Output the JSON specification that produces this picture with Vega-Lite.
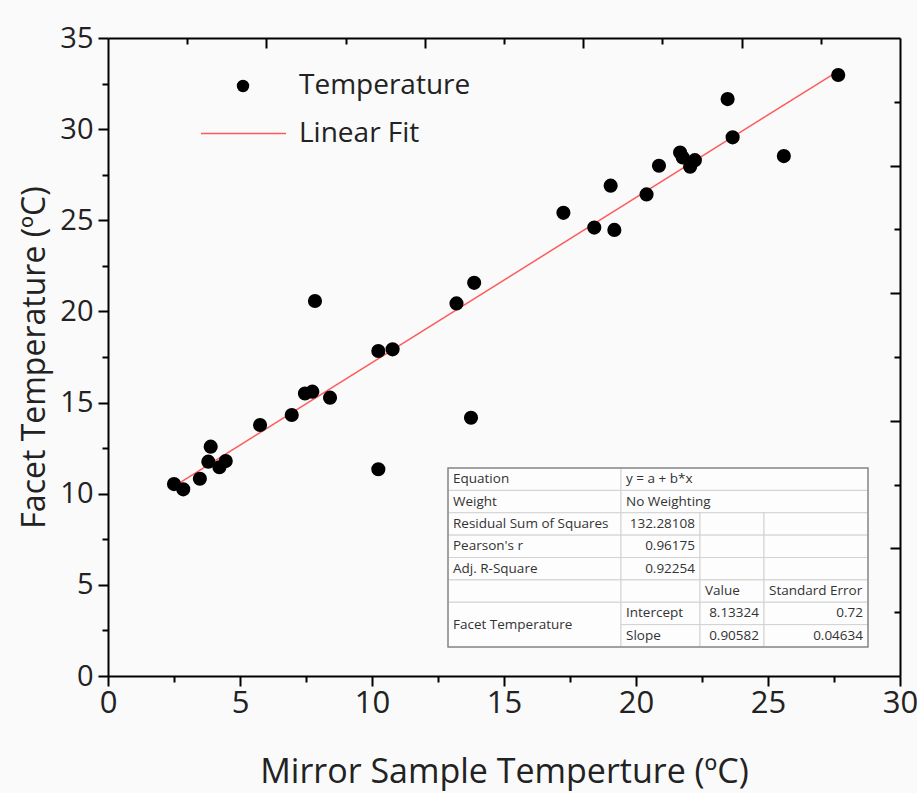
{
  "$schema": "https://vega.github.io/schema/vega-lite/v6.json",
  "width": 792,
  "height": 638,
  "autosize": {"type": "none"},
  "padding": {"left": 108, "top": 38, "right": 17, "bottom": 117},
  "background": "#fafafa",
  "config": {
    "view": {"stroke": null},
    "axis": {
      "grid": false,
      "domainColor": "black",
      "domainWidth": 2,
      "tickColor": "black",
      "tickWidth": 2,
      "labelColor": "#222",
      "titleColor": "#222",
      "titleFontWeight": "normal",
      "labelFont": "Open Sans",
      "titleFont": "Open Sans",
      "labelFlush": false
    },
    "legend": {"labelFont": "Open Sans", "labelFontSize": 28, "labelColor": "#222", "labelLimit": 0}
  },
  "datasets": {
    "temps": [
      {"mirror": 2.5, "facet": 10.53},
      {"mirror": 2.85, "facet": 10.24},
      {"mirror": 3.48, "facet": 10.82},
      {"mirror": 3.89, "facet": 12.58},
      {"mirror": 3.8, "facet": 11.76},
      {"mirror": 4.22, "facet": 11.45},
      {"mirror": 4.46, "facet": 11.79},
      {"mirror": 5.76, "facet": 13.77},
      {"mirror": 6.96, "facet": 14.32},
      {"mirror": 7.46, "facet": 15.5},
      {"mirror": 7.84, "facet": 20.57},
      {"mirror": 7.74, "facet": 15.6},
      {"mirror": 8.41, "facet": 15.27},
      {"mirror": 10.24, "facet": 17.83},
      {"mirror": 10.78, "facet": 17.92},
      {"mirror": 13.2, "facet": 20.44},
      {"mirror": 13.87, "facet": 21.57},
      {"mirror": 13.75, "facet": 14.17},
      {"mirror": 10.24, "facet": 11.34},
      {"mirror": 17.25, "facet": 25.41},
      {"mirror": 18.42, "facet": 24.6},
      {"mirror": 19.18, "facet": 24.47},
      {"mirror": 19.04, "facet": 26.9},
      {"mirror": 20.4, "facet": 26.42},
      {"mirror": 20.87, "facet": 27.99},
      {"mirror": 21.67, "facet": 28.72},
      {"mirror": 21.77, "facet": 28.45},
      {"mirror": 22.05, "facet": 27.94},
      {"mirror": 22.23, "facet": 28.3},
      {"mirror": 23.47, "facet": 31.65},
      {"mirror": 23.66, "facet": 29.55},
      {"mirror": 25.6, "facet": 28.52},
      {"mirror": 27.66, "facet": 32.97}
    ],
    "fit": [
      {"mirror": 2.5, "facet": 10.398},
      {"mirror": 27.66, "facet": 33.188}
    ],
    "cells": [
      {"r0": 0, "r1": 1, "m": 0.5, "c0": 0, "c1": 1, "t": "Equation", "kind": "label"},
      {"r0": 0, "r1": 1, "m": 0.5, "c0": 1, "c1": 4, "t": "y = a + b*x", "kind": "label"},
      {"r0": 1, "r1": 2, "m": 1.5, "c0": 0, "c1": 1, "t": "Weight", "kind": "label"},
      {"r0": 1, "r1": 2, "m": 1.5, "c0": 1, "c1": 4, "t": "No Weighting", "kind": "label"},
      {"r0": 2, "r1": 3, "m": 2.5, "c0": 0, "c1": 1, "t": "Residual Sum of Squares", "kind": "label"},
      {"r0": 2, "r1": 3, "m": 2.5, "c0": 1, "c1": 2, "t": "132.28108", "kind": "number"},
      {"r0": 2, "r1": 3, "m": 2.5, "c0": 2, "c1": 3, "t": "", "kind": "label"},
      {"r0": 2, "r1": 3, "m": 2.5, "c0": 3, "c1": 4, "t": "", "kind": "label"},
      {"r0": 3, "r1": 4, "m": 3.5, "c0": 0, "c1": 1, "t": "Pearson's r", "kind": "label"},
      {"r0": 3, "r1": 4, "m": 3.5, "c0": 1, "c1": 2, "t": "0.96175", "kind": "number"},
      {"r0": 3, "r1": 4, "m": 3.5, "c0": 2, "c1": 3, "t": "", "kind": "label"},
      {"r0": 3, "r1": 4, "m": 3.5, "c0": 3, "c1": 4, "t": "", "kind": "label"},
      {"r0": 4, "r1": 5, "m": 4.5, "c0": 0, "c1": 1, "t": "Adj. R-Square", "kind": "label"},
      {"r0": 4, "r1": 5, "m": 4.5, "c0": 1, "c1": 2, "t": "0.92254", "kind": "number"},
      {"r0": 4, "r1": 5, "m": 4.5, "c0": 2, "c1": 3, "t": "", "kind": "label"},
      {"r0": 4, "r1": 5, "m": 4.5, "c0": 3, "c1": 4, "t": "", "kind": "label"},
      {"r0": 5, "r1": 6, "m": 5.5, "c0": 0, "c1": 1, "t": "", "kind": "label"},
      {"r0": 5, "r1": 6, "m": 5.5, "c0": 1, "c1": 2, "t": "", "kind": "label"},
      {"r0": 5, "r1": 6, "m": 5.5, "c0": 2, "c1": 3, "t": "Value", "kind": "label"},
      {"r0": 5, "r1": 6, "m": 5.5, "c0": 3, "c1": 4, "t": "Standard Error", "kind": "label"},
      {"r0": 6, "r1": 8, "m": 7, "c0": 0, "c1": 1, "t": "Facet Temperature", "kind": "label"},
      {"r0": 6, "r1": 7, "m": 6.5, "c0": 1, "c1": 2, "t": "Intercept", "kind": "label"},
      {"r0": 6, "r1": 7, "m": 6.5, "c0": 2, "c1": 3, "t": "8.13324", "kind": "number"},
      {"r0": 6, "r1": 7, "m": 6.5, "c0": 3, "c1": 4, "t": "0.72", "kind": "number"},
      {"r0": 7, "r1": 8, "m": 7.5, "c0": 1, "c1": 2, "t": "Slope", "kind": "label"},
      {"r0": 7, "r1": 8, "m": 7.5, "c0": 2, "c1": 3, "t": "0.90582", "kind": "number"},
      {"r0": 7, "r1": 8, "m": 7.5, "c0": 3, "c1": 4, "t": "0.04634", "kind": "number"}
    ],
    "frame": [{"r0": 0, "r1": 8, "c0": 0, "c1": 4}]
  },
  "layer": [
    {
      "data": {"name": "fit"},
      "mark": {"type": "line", "strokeWidth": 1.5},
      "encoding": {
        "x": {"field": "mirror", "type": "quantitative", "scale": {"domain": [0, 30], "nice": false, "zero": false},
          "axis": {"orient": "bottom", "values": [2.5, 7.5, 12.5, 17.5, 22.5, 27.5], "labels": false, "domain": false, "tickSize": 6, "title": null}},
        "y": {"field": "facet", "type": "quantitative", "scale": {"domain": [0, 35], "nice": false, "zero": false},
          "axis": {"orient": "left", "values": [2.5, 7.5, 12.5, 17.5, 22.5, 27.5, 32.5], "labels": false, "domain": false, "tickSize": 6, "title": null}},
        "color": {"datum": "Linear Fit", "type": "nominal", "scale": {"range": ["#ff5a5a"]},
          "legend": {"title": null, "orient": "none", "legendX": 92, "legendY": 52, "padding": 0, "symbolSize": 7225, "symbolStrokeWidth": 1.5, "labelOffset": 12}}
      }
    },
    {
      "data": {"name": "temps"},
      "mark": {"type": "point", "filled": true, "size": 200, "color": "black", "opacity": 1},
      "encoding": {
        "x": {"field": "mirror", "type": "quantitative", "scale": {"domain": [0, 30], "nice": false, "zero": false},
          "axis": {"orient": "bottom", "values": [0, 5, 10, 15, 20, 25, 30], "tickSize": 10, "labelFontSize": 31, "labelPadding": 2,
            "title": "Mirror Sample Temperture (ºC)", "titleFontSize": 34, "titlePadding": 37}},
        "y": {"field": "facet", "type": "quantitative", "scale": {"domain": [0, 35], "nice": false, "zero": false},
          "axis": {"orient": "left", "values": [0, 5, 10, 15, 20, 25, 30, 35], "tickSize": 10, "labelFontSize": 29, "labelPadding": 5,
            "title": "Facet Temperature (ºC)", "titleFontSize": 32, "titlePadding": 8}},
        "shape": {"datum": "Temperature", "type": "nominal", "scale": {"range": ["circle"]},
          "legend": {"title": null, "orient": "none", "legendX": 121, "legendY": 34, "padding": 0, "symbolSize": 154, "symbolFillColor": "black", "symbolStrokeColor": "black", "labelOffset": 42}}
      }
    },
    {
      "data": {"name": "temps"},
      "mark": {"type": "point", "opacity": 0},
      "encoding": {
        "x": {"field": "mirror", "type": "quantitative", "scale": {"domain": [0, 30], "nice": false, "zero": false},
          "axis": {"orient": "top", "values": [6, 12, 18, 24], "labels": false, "tickSize": -10, "title": null}},
        "y": {"field": "facet", "type": "quantitative", "scale": {"domain": [0, 35], "nice": false, "zero": false},
          "axis": {"orient": "right", "values": [7, 14, 21, 28], "labels": false, "tickSize": -10, "title": null}}
      }
    },
    {
      "data": {"name": "temps"},
      "mark": {"type": "point", "opacity": 0},
      "encoding": {
        "x": {"field": "mirror", "type": "quantitative", "scale": {"domain": [0, 30], "nice": false, "zero": false},
          "axis": {"orient": "top", "values": [3, 9, 15, 21, 27], "labels": false, "domain": false, "tickSize": -6, "title": null}},
        "y": {"field": "facet", "type": "quantitative", "scale": {"domain": [0, 35], "nice": false, "zero": false},
          "axis": {"orient": "right", "values": [3.5, 10.5, 17.5, 24.5, 31.5], "labels": false, "domain": false, "tickSize": -6, "title": null}}
      }
    },
    {
      "data": {"name": "cells"},
      "layer": [
        {
          "mark": {"type": "rect", "fill": "#fdfdfd", "stroke": "#d2d2d2", "strokeWidth": 1},
          "encoding": {
            "x": {"field": "c0", "type": "quantitative", "scale": {"domain": [0, 1, 2, 3, 4], "range": [340, 513, 592, 656, 760], "nice": false, "zero": false}, "axis": null},
            "x2": {"field": "c1"},
            "y": {"field": "r0", "type": "quantitative", "scale": {"domain": [0, 8], "range": [430, 609], "nice": false, "zero": false}, "axis": null},
            "y2": {"field": "r1"}
          }
        },
        {
          "data": {"name": "frame"},
          "mark": {"type": "rect", "fill": null, "stroke": "#8a8a8a", "strokeWidth": 1.5},
          "encoding": {
            "x": {"field": "c0", "type": "quantitative"},
            "x2": {"field": "c1"},
            "y": {"field": "r0", "type": "quantitative"},
            "y2": {"field": "r1"}
          }
        },
        {
          "transform": [{"filter": "datum.kind === 'label'"}],
          "mark": {"type": "text", "align": "left", "baseline": "middle", "dx": 5, "font": "Open Sans", "fontSize": 13.5, "color": "#333"},
          "encoding": {
            "x": {"field": "c0", "type": "quantitative"},
            "y": {"field": "m", "type": "quantitative"},
            "text": {"field": "t"}
          }
        },
        {
          "transform": [{"filter": "datum.kind === 'number'"}],
          "mark": {"type": "text", "align": "right", "baseline": "middle", "dx": -5, "font": "Open Sans", "fontSize": 13.5, "color": "#333"},
          "encoding": {
            "x": {"field": "c1", "type": "quantitative"},
            "y": {"field": "m", "type": "quantitative"},
            "text": {"field": "t"}
          }
        }
      ]
    }
  ],
  "resolve": {"scale": {"x": "independent", "y": "independent"}, "axis": {"x": "independent", "y": "independent"}}
}
